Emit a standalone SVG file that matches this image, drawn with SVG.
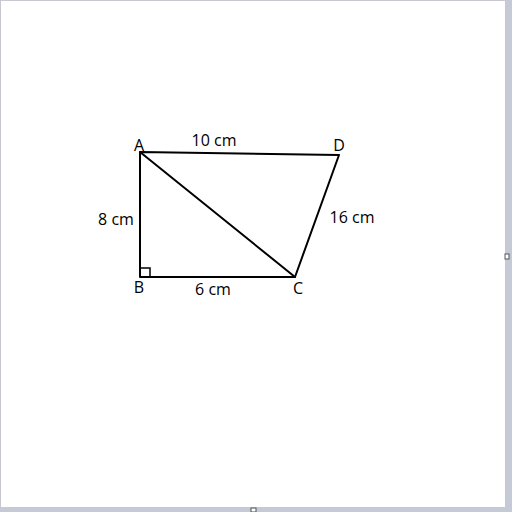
<svg xmlns="http://www.w3.org/2000/svg" width="512" height="512" viewBox="0 0 512 512">
<style>
.t{font-family:"Open Sans","Liberation Sans",sans-serif;font-size:16px;fill:#000}
.l{stroke:#000;stroke-width:2;fill:none;stroke-linecap:round;stroke-linejoin:round}
</style>
<rect x="0" y="0" width="512" height="512" fill="#fff"/>
<rect x="0.5" y="0.5" width="505" height="507" fill="none" stroke="#c8c8d0" stroke-width="1"/>
<rect x="506" y="0" width="6" height="512" fill="#c5cad6"/>
<rect x="0" y="508" width="512" height="4" fill="#c5cad6"/>
<rect x="505" y="254" width="4" height="5" fill="#fff" stroke="#555" stroke-width="1"/>
<rect x="251" y="508" width="5" height="4" fill="#fff" stroke="#555" stroke-width="1"/>
<g id="edges">
<path class="l" d="M140,152 L140,277 L295,277 L339,155 Z"/>
<path class="l" d="M140,152 L295,277"/>
<path d="M140,268 H150 V277" fill="none" stroke="#000" stroke-width="1.5"/>
</g>
<g id="A"><text class="t" x="139" y="151" text-anchor="middle">A</text></g>
<g id="B"><text class="t" x="139" y="293" text-anchor="middle">B</text></g>
<g id="C"><text class="t" x="298" y="294" text-anchor="middle">C</text></g>
<g id="D"><text class="t" x="339" y="151" text-anchor="middle">D</text></g>
<g id="labels">
<text class="t" x="214" y="146" text-anchor="middle">10 cm</text>
<text class="t" x="116" y="225" text-anchor="middle">8 cm</text>
<text class="t" x="352" y="223" text-anchor="middle">16 cm</text>
<text class="t" x="213" y="295" text-anchor="middle">6 cm</text>
</g>
</svg>
